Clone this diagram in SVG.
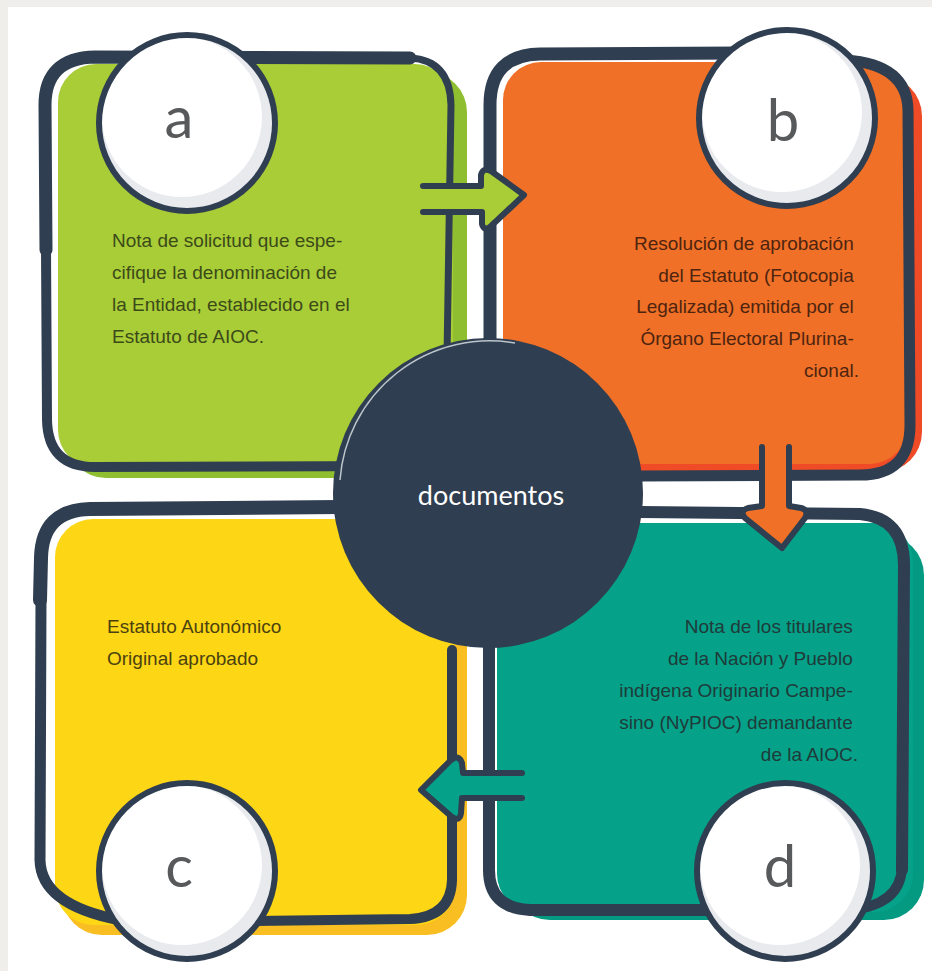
<svg xmlns="http://www.w3.org/2000/svg" width="932" height="971" viewBox="0 0 932 971">
<defs>
<style>
.ol{fill:none;stroke:#2f3e50;stroke-linecap:round;stroke-linejoin:round}
.txt{font-family:"Liberation Sans",Arial,sans-serif;font-size:19px}
.let{font-family:Lato,"Noto Sans",sans-serif;font-weight:400;font-size:58px;fill:#58595b;text-anchor:middle}
.arr{stroke:#2f3e50;stroke-width:6;stroke-linejoin:round;stroke-linecap:round}
.ring{fill:none;stroke:#2f3e50;stroke-width:6}
</style>
<g id="badge">
<circle r="88" fill="#e8eaee"/>
<circle cx="-5" cy="-6" r="80" fill="#ffffff"/>
<circle r="88" class="ring"/>
</g>
</defs>
<rect x="0" y="0" width="932" height="971" fill="#f0eeea"/>
<rect x="8" y="7" width="924" height="964" fill="#ffffff"/>

<g id="node-a">
<rect x="66" y="72" width="401" height="406" rx="40" fill="#8fbf31"/>
<rect x="58" y="64" width="395" height="404" rx="38" fill="#a8cd37"/>
<path class="ol" stroke-width="13" d="M46,250 L45,105 Q45,58 95,57 L410,58"/>
<path class="ol" stroke-width="7" d="M410,58 Q450,60 451,105 L446,420 Q444,465 400,466"/>
<path class="ol" stroke-width="10" d="M46,248 L47,420 Q48,467 95,467 L400,466"/>
<use href="#badge" x="187" y="123"/>
<text class="let" x="179" y="138">a</text>
<text class="txt" fill="#3c4a1a">
<tspan x="112" y="247">Nota de solicitud que espe-</tspan>
<tspan x="112" y="279">cifique la denominación de</tspan>
<tspan x="112" y="311">la Entidad, establecido en el</tspan>
<tspan x="112" y="343">Estatuto de AIOC.</tspan>
</text>
</g>

<g id="node-b">
<rect x="512" y="76" width="410" height="396" rx="40" fill="#ee4b26"/>
<rect x="503" y="62" width="405" height="402" rx="38" fill="#f07027"/>
<path class="ol" stroke-width="13" d="M490,350 L490,105 Q490,55 540,54 L740,53"/>
<path class="ol" stroke-width="11" d="M845,60 Q907,64 908,110 L910,425 Q910,475 860,475 L640,476"/>
<use href="#badge" x="787" y="118"/>
<text class="let" x="783" y="141">b</text>
<text class="txt" fill="#4e2410" text-anchor="end">
<tspan x="859" y="250">Resolución de aprobación</tspan>
<tspan x="859" y="282">del Estatuto (Fotocopia</tspan>
<tspan x="859" y="313">Legalizada) emitida por el</tspan>
<tspan x="859" y="345">Órgano Electoral Plurina-</tspan>
<tspan x="859" y="377">cional.</tspan>
</text>
</g>

<g id="node-c">
<rect x="62" y="528" width="405" height="407" rx="40" fill="#f9be22"/>
<rect x="55" y="519" width="400" height="406" rx="38" fill="#fdd616"/>
<path class="ol" stroke-width="14" d="M340,507 L90,509 Q42,510 41,558 L40,600"/>
<path class="ol" stroke-width="11" d="M41,598 L40,860 Q41,905 120,920"/>
<path class="ol" stroke-width="10" d="M250,921 L410,919 Q451,917 452,880 L452,650"/>
<use href="#badge" x="187" y="871"/>
<text class="let" x="179" y="887">c</text>
<text class="txt" fill="#4b4210">
<tspan x="107" y="633">Estatuto Autonómico</tspan>
<tspan x="107" y="665">Original aprobado</tspan>
</text>
</g>

<g id="node-d">
<rect x="510" y="535" width="414" height="385" rx="40" fill="#039a81"/>
<rect x="497" y="523" width="416" height="389" rx="38" fill="#05a188"/>
<path class="ol" stroke-width="12" d="M640,512 L860,514 Q904,518 904,565 L902,870"/>
<path class="ol" stroke-width="10" d="M902,868 Q900,905 850,910"/>
<path class="ol" stroke-width="12" d="M720,910 L530,910 Q489,908 489,870 L489,640"/>
<use href="#badge" x="785" y="871"/>
<text class="let" x="780" y="887">d</text>
<text class="txt" fill="#1f3b3a" text-anchor="end">
<tspan x="858" y="633">Nota de los titulares</tspan>
<tspan x="858" y="665">de la Nación y Pueblo</tspan>
<tspan x="858" y="697">indígena Originario Campe-</tspan>
<tspan x="858" y="729">sino (NyPIOC) demandante</tspan>
<tspan x="858" y="761">de la AIOC.</tspan>
</text>
</g>

<g id="node-center">
<circle cx="488" cy="493" r="155" fill="#2f3e50"/>
<path d="M340,480 A150,150 0 0 1 515,343" fill="none" stroke="#dfe6ea" stroke-width="1.5" opacity="0.8"/>
<text x="491" y="505" font-family="Lato,'Noto Sans',sans-serif" font-size="27" fill="#ffffff" text-anchor="middle">documentos</text>
</g>

<g id="connectors">
<path class="arr" fill="#a8cd37" d="M423,186 L481,186 L481,175 Q483,167 491,171 L524,195 L491,226 Q484,232 482,224 L482,212 L423,212"/>
<path class="arr" fill="#f07027" d="M762,447 L762,506 L748,508 Q739,511 745,518 L782,548 L805,518 Q809,510 801,508 L789,506 L789,447"/>
<path class="arr" fill="#05a188" d="M522,773 L463,773 L462,763 Q459,754 451,760 L421,790 L452,817 Q460,822 461,813 L462,798 L522,798"/>
</g>
</svg>
